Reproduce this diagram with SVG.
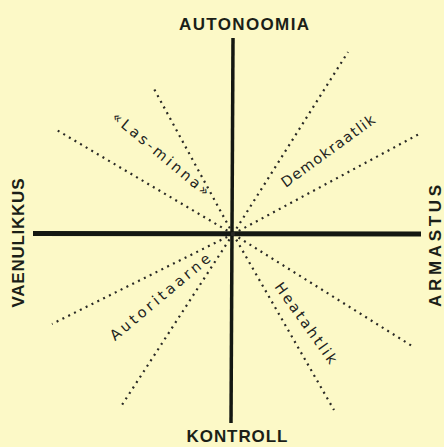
<svg xmlns="http://www.w3.org/2000/svg" width="444" height="447" viewBox="0 0 444 447">
<style>
.axis{stroke:#141812;stroke-linecap:butt;fill:none}
.dot{stroke:#2a2a26;stroke-width:2.2;stroke-dasharray:2 4.5;fill:none}
.ax{font-family:"Liberation Sans","DejaVu Sans",sans-serif;font-weight:bold;font-size:17px;fill:#1b1f18}
.lb{font-family:"DejaVu Sans","Liberation Sans",sans-serif;font-size:14.5px;fill:#22241e}
</style>
<rect width="444" height="447" fill="#fcf9c7"/>
<g id="connectors">
<line class="axis" x1="233" y1="38" x2="231" y2="423" stroke-width="3.5"/>
<line class="axis" x1="33" y1="233.5" x2="421" y2="234" stroke-width="5"/>
<line class="dot" x1="233" y1="234" x2="153" y2="87"/>
<line class="dot" x1="233" y1="234" x2="55" y2="129"/>
<line class="dot" x1="233" y1="234" x2="348" y2="52"/>
<line class="dot" x1="233" y1="234" x2="421" y2="133"/>
<line class="dot" x1="233" y1="234" x2="52" y2="324"/>
<line class="dot" x1="233" y1="234" x2="120" y2="408"/>
<line class="dot" x1="233" y1="234" x2="412" y2="346"/>
<line class="dot" x1="233" y1="234" x2="334" y2="410"/>
</g>
<g id="autonoomia"><text class="ax" x="244" y="30" text-anchor="middle" textLength="130" lengthAdjust="spacing">AUTONOOMIA</text></g>
<g id="kontroll"><text class="ax" x="237" y="442" text-anchor="middle" textLength="101" lengthAdjust="spacing">KONTROLL</text></g>
<g id="vaenulikkus"><text class="ax" transform="translate(24,243) rotate(-90)" x="0" y="0" text-anchor="middle" textLength="129" lengthAdjust="spacing">VAENULIKKUS</text></g>
<g id="armastus"><text class="ax" transform="translate(441,246) rotate(-90)" x="0" y="0" text-anchor="middle" textLength="122" lengthAdjust="spacing">ARMASTUS</text></g>
<g id="las-minna"><text class="lb" transform="translate(161,154) rotate(40)" x="0" y="5" text-anchor="middle" textLength="122" lengthAdjust="spacing">«Las-minna»</text></g>
<g id="demokraatlik"><text class="lb" transform="translate(328,151) rotate(-36)" x="0" y="5" text-anchor="middle" textLength="112" lengthAdjust="spacing">Demokraatlik</text></g>
<g id="autoritaarne"><text class="lb" transform="translate(160,297) rotate(-40)" x="0" y="5" text-anchor="middle" textLength="126" lengthAdjust="spacing">Autoritaarne</text></g>
<g id="heatahtlik"><text class="lb" transform="translate(306,323) rotate(54.5)" x="0" y="5" text-anchor="middle" textLength="96" lengthAdjust="spacing">Heatahtlik</text></g>
</svg>
